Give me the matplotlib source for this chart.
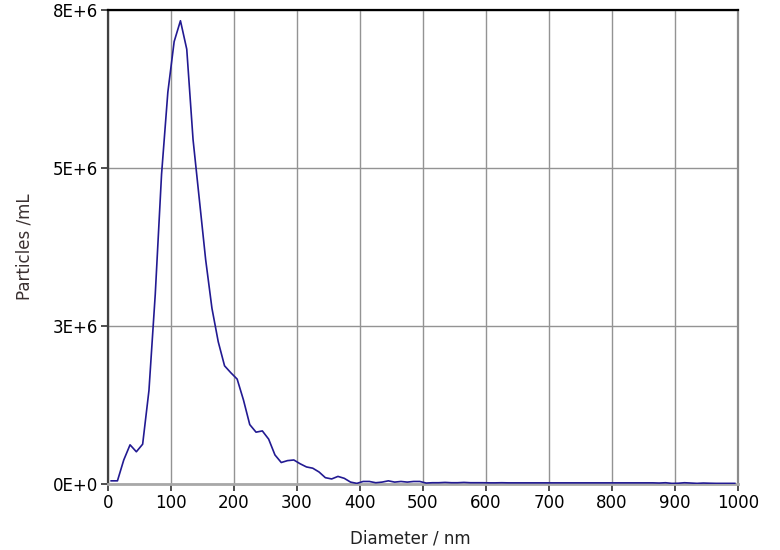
import numpy as np
import matplotlib
matplotlib.use("Agg")
import matplotlib.pyplot as plt

# bin centres (nm) and concentration (x1E6 particles/mL)
diameter = np.arange(5, 1000, 10)
conc_1e6 = [
    0.05, 0.05, 0.38, 0.62, 0.51, 0.63, 1.48, 3.00, 4.90, 6.20,
    7.00, 7.33, 6.88, 5.45, 4.50, 3.55, 2.78, 2.25, 1.87, 1.76,
    1.66, 1.33, 0.94, 0.82, 0.84, 0.71, 0.46, 0.34, 0.37, 0.38,
    0.32, 0.27, 0.25, 0.19, 0.10, 0.08, 0.12, 0.09, 0.03, 0.01,
    0.04, 0.04, 0.02, 0.03, 0.05, 0.03, 0.04, 0.03, 0.04, 0.04,
    0.015, 0.02, 0.02, 0.025, 0.02, 0.02, 0.025, 0.02, 0.02, 0.02,
    0.018, 0.018, 0.02, 0.018, 0.018, 0.018, 0.018, 0.018, 0.018, 0.018,
    0.018, 0.018, 0.018, 0.018, 0.018, 0.018, 0.018, 0.018, 0.018, 0.018,
    0.018, 0.018, 0.018, 0.018, 0.018, 0.018, 0.018, 0.015, 0.02, 0.01,
    0.012, 0.02, 0.015, 0.01, 0.015, 0.012, 0.01, 0.01, 0.01, 0.01,
]
conc = np.array(conc_1e6) * 1e6

x_ticks = list(range(0, 1001, 100))
y_ticks = [0, 2.5e6, 5e6, 7.5e6]
y_tick_labels = ["0E+0", "3E+6", "5E+6", "8E+6"]

fig = plt.figure(figsize=(7.8, 5.5), dpi=100)
ax = fig.add_axes([108 / 780, 1 - 484 / 550, 630 / 780, 474 / 550])

ax.plot(diameter, conc, color="#221a92", linewidth=1.2, zorder=3)

ax.set_xlim(0, 1000)
ax.set_ylim(0, 7.5e6)
ax.set_xticks(x_ticks)
ax.set_yticks(y_ticks)
ax.set_yticklabels(y_tick_labels)

ax.grid(True, color="#939393", linewidth=1.0)
ax.set_axisbelow(True)

ax.spines["top"].set_color("black")
ax.spines["top"].set_linewidth(1.6)
ax.spines["left"].set_color("#404040")
ax.spines["left"].set_linewidth(1.6)
ax.spines["bottom"].set_color("#a8a8a8")
ax.spines["bottom"].set_linewidth(2.0)
ax.spines["right"].set_color("#8c8c8c")
ax.spines["right"].set_linewidth(1.6)

ax.tick_params(axis="both", direction="out", length=5, width=1.2,
               color="#303030", labelsize=12, labelcolor="black", pad=2)

ax.set_xlabel("Diameter / nm", fontsize=12, color="#222222")
ax.set_ylabel("Particles /mL", fontsize=12, color="#3a3030")
ax.xaxis.set_label_coords(0.48, -0.095)
ax.yaxis.set_label_coords(-0.118, 0.5)

fig.savefig("out.png", dpi=100)
